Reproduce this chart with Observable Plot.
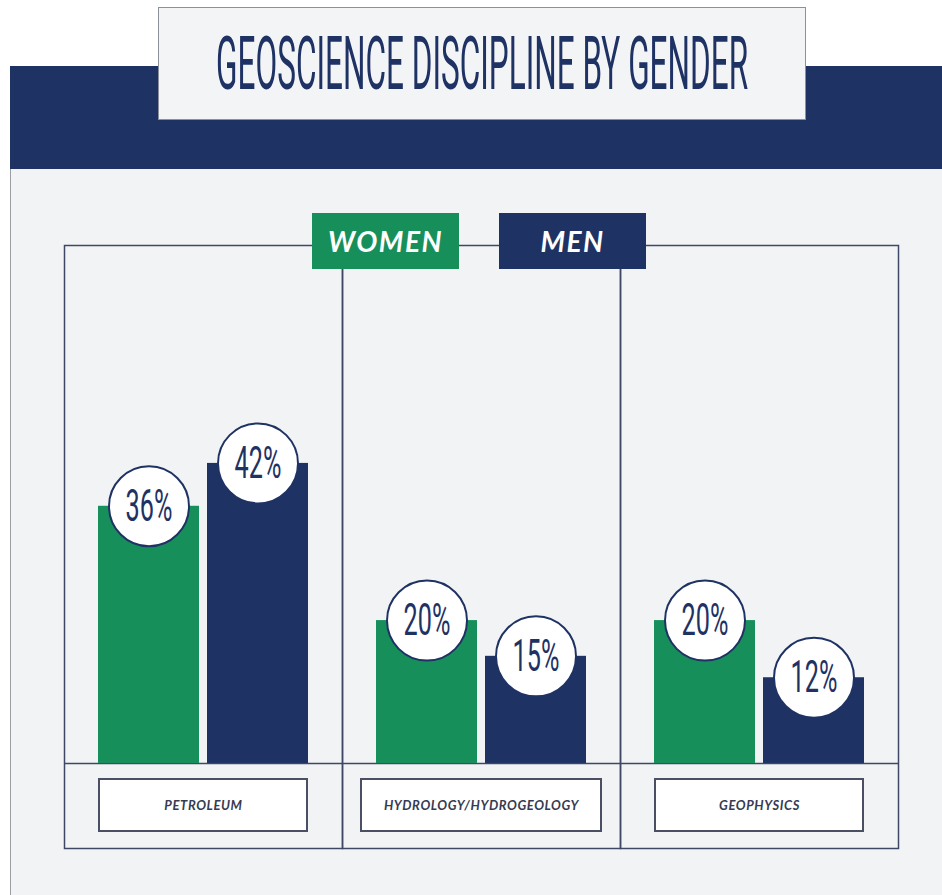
<!DOCTYPE html>
<html>
<head>
<meta charset="utf-8">
<script src="https://cdn.jsdelivr.net/npm/d3@7"></script>
<script src="https://cdn.jsdelivr.net/npm/@observablehq/plot@0.6"></script>
<style>
  html, body { margin: 0; padding: 0; background: #ffffff; }
  #page { position: relative; width: 942px; height: 895px; overflow: hidden; background: #ffffff; }
  #panel { position: absolute; left: 10px; top: 66px; width: 932px; height: 829px; background: #f2f3f4; border-left: 1.5px solid #9c9ea3; box-sizing: border-box; }
  #band { position: absolute; left: 10px; top: 66px; width: 932px; height: 103px; background: #1f3264; }
  #titlebox { position: absolute; left: 158px; top: 7px; width: 648px; height: 113px; background: #f3f4f6; border: 1.5px solid #8c909a; box-sizing: border-box; display: flex; align-items: center; justify-content: center; }
  #title { display: inline-block; white-space: nowrap; font-family: Roboto, "DejaVu Sans", sans-serif; font-weight: 400; font-size: 74px; line-height: 1; color: #1f3264; transform-origin: center center; }
  #chart { position: absolute; left: 0; top: 0; }
  .leg { position: absolute; top: 213px; width: 147px; height: 56px; display: flex; align-items: center; justify-content: center; color: #ffffff; font-family: Lato, "Open Sans", sans-serif; font-weight: 700; font-style: italic; font-size: 28px; letter-spacing: 1.5px; }
</style>
</head>
<body>
<div id="page">
  <div id="panel"></div>
  <div id="band"></div>
  <div id="titlebox"><span id="title">GEOSCIENCE DISCIPLINE BY GENDER</span></div>
  <div id="chart"></div>
  <div id="legend"></div>
</div>
<script>
// ---- data ----
const disciplines = ["PETROLEUM", "HYDROLOGY/HYDROGEOLOGY", "GEOPHYSICS"];
const genders = ["WOMEN", "MEN"];
const women = [36, 20, 20];
const men = [42, 15, 12];

// ---- styles ----
const GREEN = "#178f5b";
const NAVY = "#1f3264";
const LINE = "#3f4766";
const genderColors = [GREEN, NAVY];

const rows = disciplines.flatMap((d, i) => [
  {discipline: d, gender: genders[0], value: women[i]},
  {discipline: d, gender: genders[1], value: men[i]}
]);

const boxInset = d => d.length > 12 ? 19 : 35;

const chart = Plot.plot({
  width: 942,
  height: 895,
  marginLeft: 63,
  marginRight: 43,
  marginTop: 245,
  marginBottom: 47,
  style: {background: "transparent", overflow: "visible"},
  fx: {domain: disciplines, padding: 0, axis: null, label: null},
  x: {domain: genders, paddingInner: 0.074, paddingOuter: 0.305, axis: null},
  y: {domain: [-11.9, 72.5], axis: null},
  color: {domain: genders, range: genderColors},
  marks: [
    Plot.frame({stroke: LINE, strokeWidth: 1.5}),
    Plot.ruleY([0], {stroke: LINE, strokeWidth: 1.5}),
    Plot.barY(rows, {fx: "discipline", x: "gender", y: "value", fill: "gender"}),
    Plot.dot(rows, {fx: "discipline", x: "gender", y: "value", r: 40, fill: "#ffffff", stroke: NAVY, strokeWidth: 2}),
    Plot.text(rows, {fx: "discipline", x: "gender", y: "value", text: d => d.value + "%", fill: NAVY, fontSize: 45, fontFamily: "Roboto, sans-serif", fontWeight: 400}),
    ...disciplines.map(d => Plot.rect([d], {
      fx: x => x, fill: "#ffffff", stroke: "#4a4f63", strokeWidth: 2,
      insetTop: 534, insetBottom: 17, insetLeft: boxInset(d), insetRight: boxInset(d)
    })),
    Plot.text(disciplines, {fx: d => d, text: d => d, frameAnchor: "bottom", lineAnchor: "middle", dy: -43,
      fontSize: 13, fontWeight: 700, fontStyle: "italic", fill: "#363b52", fontFamily: "Lato, sans-serif"})
  ]
});
document.getElementById("chart").appendChild(chart);

// condense percentage labels
chart.querySelectorAll("text").forEach(el => {
  if (el.textContent.endsWith("%")) {
    const x = +(el.getAttribute("x") || 0);
    const t = el.getAttribute("transform") || "";
    el.setAttribute("transform", `${t} translate(${x},0) scale(0.56,1) translate(${-x},0)`);
  }
  if (disciplines.includes(el.textContent)) el.style.letterSpacing = "0.6px";
});

// legend
const legend = document.getElementById("legend");
const legLeft = [312, 499];
genders.forEach((g, i) => {
  const div = document.createElement("div");
  div.className = "leg";
  div.style.left = legLeft[i] + "px";
  div.style.background = genderColors[i];
  div.textContent = g;
  legend.appendChild(div);
});

// condense title
const title = document.getElementById("title");
const w = title.getBoundingClientRect().width;
title.style.transform = `scaleX(${532 / w})`;
</script>
</body>
</html>
